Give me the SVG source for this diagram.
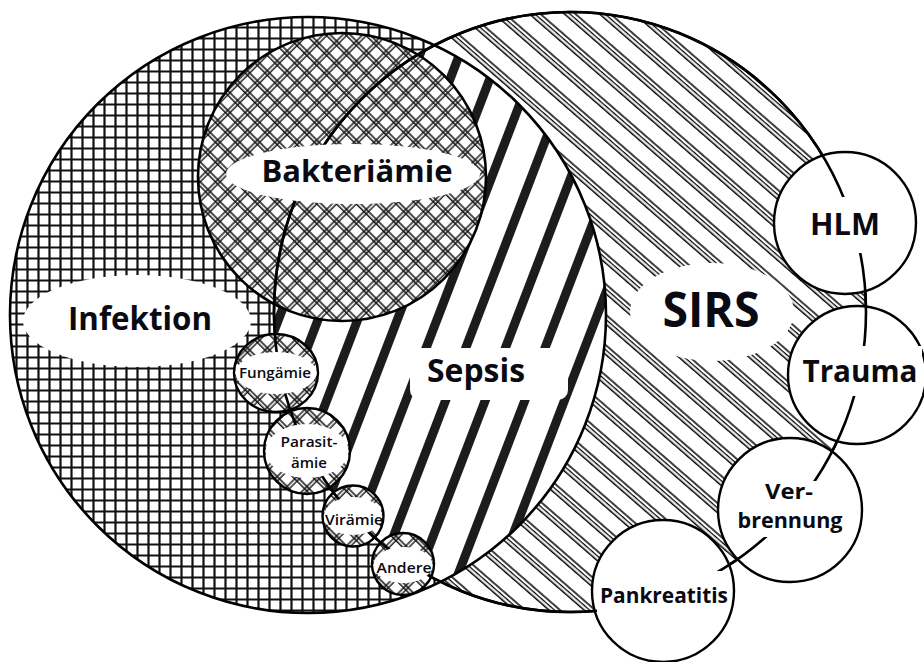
<svg xmlns="http://www.w3.org/2000/svg" width="924" height="662" viewBox="0 0 924 662">
<style>
.ol{fill:none;stroke:#000;stroke-width:2.6}
.sc{stroke:#000;stroke-width:2.4}
.w{fill:#fff}
.t{font-family:"Open Sans","Liberation Sans",sans-serif;font-weight:700;fill:#0a0a12;text-anchor:middle}
.s{font-family:"Open Sans","Liberation Sans",sans-serif;font-weight:600;fill:#0a0a12;text-anchor:middle;font-size:15px}
</style>
<defs>
<pattern id="grid" width="11" height="11" patternUnits="userSpaceOnUse">
<rect width="11" height="11" fill="#fff"/>
<path d="M0 5.5H11M5.5 0V11" stroke="#111" stroke-width="2.2"/>
</pattern>
<pattern id="triple" width="40" height="23" patternUnits="userSpaceOnUse" patternTransform="rotate(41)">
<rect width="40" height="23" fill="#fff"/>
<path d="M0 1H40M0 4.6H40M0 8.2H40" stroke="#000" stroke-width="1.4"/>
</pattern>
<pattern id="stripes" width="37" height="20" patternUnits="userSpaceOnUse" patternTransform="rotate(21)">
<rect width="37" height="20" fill="#fff"/>
<rect x="0" width="9" height="20" fill="#1c1c1c"/>
</pattern>
<pattern id="diag" width="14" height="14" patternUnits="userSpaceOnUse" patternTransform="rotate(45)">
<rect width="14" height="14" fill="#fff"/>
<path d="M0 1H14M0 4.2H14M1 0V14M4.2 0V14" stroke="#111" stroke-width="1.4"/>
</pattern>
<clipPath id="infClip"><circle cx="308" cy="315" r="298"/></clipPath>
</defs>
<rect width="924" height="662" fill="#fff"/>

<g id="infektion"><circle cx="308" cy="315" r="298" fill="url(#grid)"/></g>
<g id="sirs"><ellipse cx="570" cy="312" rx="296" ry="300" fill="url(#triple)"/></g>
<g id="sepsis"><ellipse cx="570" cy="312" rx="296" ry="300" fill="url(#stripes)" clip-path="url(#infClip)"/></g>
<g id="bakteriaemie"><circle cx="342" cy="177" r="144" fill="url(#diag)"/></g>

<g id="outlines">
<circle class="ol" cx="308" cy="315" r="298"/>
<ellipse class="ol" cx="570" cy="312" rx="296" ry="300"/>
<circle class="ol" cx="342" cy="177" r="144"/>
</g>

<g id="fungaemie"><ellipse class="sc" cx="276" cy="373" rx="42" ry="39" fill="url(#diag)"/></g>
<g id="parasitaemie"><circle class="sc" cx="307" cy="451" r="43" fill="url(#diag)"/></g>
<g id="viraemie"><circle class="sc" cx="353" cy="516" r="30.5" fill="url(#diag)"/></g>
<g id="andere"><circle class="sc" cx="403" cy="564" r="31" fill="url(#diag)"/></g>
<g id="hlm"><circle class="sc w" cx="845" cy="223" r="71"/></g>
<g id="trauma"><circle class="sc w" cx="857" cy="375" r="69"/></g>
<g id="verbrennung"><circle class="sc w" cx="790" cy="510" r="72"/></g>
<g id="pankreatitis"><circle class="sc w" cx="663" cy="591" r="71"/></g>

<g id="connectors">
<ellipse class="ol" cx="570" cy="312" rx="296" ry="300"/>
</g>

<g id="labels">
<g id="infektion-label"><ellipse class="w" cx="137" cy="321" rx="114" ry="46"/><text class="t" x="140" y="330" font-size="32" textLength="144" lengthAdjust="spacingAndGlyphs">Infektion</text></g>
<g id="bakteriaemie-label"><ellipse class="w" cx="353" cy="174" rx="127" ry="30"/><text class="t" x="357" y="182" font-size="31" textLength="191" lengthAdjust="spacingAndGlyphs">Bakteriämie</text></g>
<g id="sepsis-label"><rect class="w" x="410" y="348" width="158" height="52" rx="10"/><text class="t" x="476" y="382" font-size="32" textLength="98" lengthAdjust="spacingAndGlyphs">Sepsis</text></g>
<g id="sirs-label"><ellipse class="w" cx="712" cy="312" rx="82" ry="49"/><text class="t" x="711" y="327" font-size="48" textLength="97" lengthAdjust="spacingAndGlyphs">SIRS</text></g>
<g id="fungaemie-label"><ellipse class="w" cx="276" cy="373" rx="40.5" ry="21"/><text class="s" x="275" y="378" textLength="72" lengthAdjust="spacingAndGlyphs">Fungämie</text></g>
<g id="parasitaemie-label"><ellipse class="w" cx="307" cy="451" rx="41.5" ry="27"/><text class="s" x="309" y="447" textLength="57" lengthAdjust="spacingAndGlyphs">Parasit-</text><text class="s" x="309" y="468">ämie</text></g>
<g id="viraemie-label"><ellipse class="w" cx="353" cy="516" rx="29" ry="19"/><text class="s" x="354" y="525" textLength="58" lengthAdjust="spacingAndGlyphs">Virämie</text></g>
<g id="andere-label"><ellipse class="w" cx="403" cy="565" rx="29.5" ry="18"/><text class="s" x="404" y="573" textLength="55" lengthAdjust="spacingAndGlyphs">Andere</text></g>
<g id="hlm-label"><rect class="w" x="800" y="197" width="90" height="56"/><text class="t" x="845" y="235" font-size="31" textLength="70" lengthAdjust="spacingAndGlyphs">HLM</text></g>
<g id="trauma-label"><rect class="w" x="798" y="346" width="124" height="50"/><text class="t" x="860" y="382" font-size="31" textLength="115" lengthAdjust="spacingAndGlyphs">Trauma</text></g>
<g id="verbrennung-label"><rect class="w" x="735" y="481" width="111" height="56"/><text class="t" x="789" y="499" font-size="22" textLength="48" lengthAdjust="spacingAndGlyphs">Ver-</text><text class="t" x="790" y="528" font-size="22" textLength="105" lengthAdjust="spacingAndGlyphs">brennung</text></g>
<g id="pankreatitis-label"><rect class="w" x="597" y="571" width="131" height="41"/><text class="t" x="664" y="603" font-size="21.5" textLength="128" lengthAdjust="spacingAndGlyphs">Pankreatitis</text></g>
</g>
</svg>
